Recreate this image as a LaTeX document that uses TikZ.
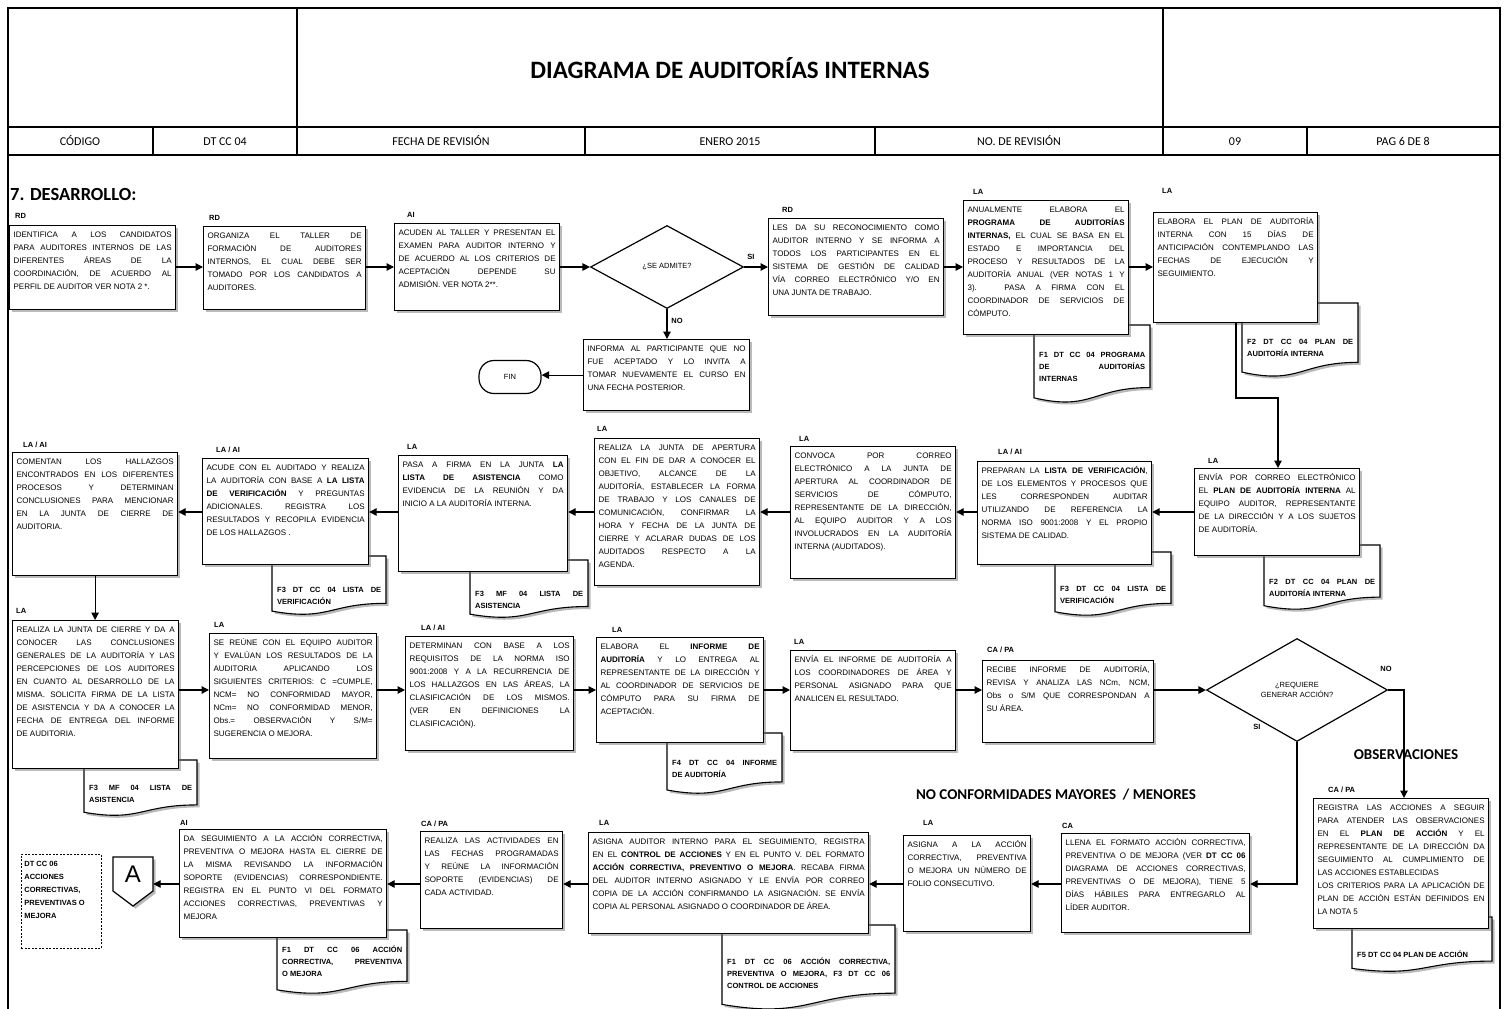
\documentclass[tikz,border=0pt]{standalone}
\usepackage{fontspec}
\setmainfont{Liberation Sans}
\newfontfamily\calib{Carlito}
\usetikzlibrary{arrows.meta,shadows,shapes.geometric,calc}

\hyphenpenalty=10000
\exhyphenpenalty=10000
\tolerance=10000
\hbadness=10000
\hfuzz=30pt

\newcommand\FntBox{\fontsize{8}{13}\selectfont}
\newcommand\FntDoc{\fontsize{7.5}{12}\selectfont\bfseries}
\newcommand\FntRole{\fontsize{7.5}{9}\selectfont\bfseries}
\newcommand\FntDec{\fontsize{7.5}{10}\selectfont}
\newcommand\NL{\linebreak}

% process box: name, x1, y1, x2, y2, text (text set from the top)
\newcommand\PBox[6]{%
  \node[procbox, anchor=north west] (#1) at (#2,#3)
    {\parbox[c][\dimexpr#5pt-#3pt-5pt\relax][t]{\dimexpr#4pt-#2pt-8pt\relax}{\FntBox\strut #6}};}

% document symbol: x1, ytop, x2, height
\newcommand\DocShape[4]{%
  \pgfmathsetmacro\dsR{#2+0.802*#4}%
  \pgfmathsetmacro\dsC{#2+1.107*#4}%
  \pgfmathsetmacro\dsL{#2+0.934*#4}%
  \pgfmathsetmacro\dsM{(#1+#3)/2}%
  \path[docshape] (#1,#2) -- (#3,#2) -- (#3,\dsR)
     .. controls (\dsM,\dsR) and (\dsM,\dsC) .. (#1,\dsL) -- cycle;}

% text of a document symbol: name, x1, x2, centre of first line, text
\newcommand\DocText[5]{%
  \node[doctext] (#1) at (#2+5,#4-6)
    {\parbox{\dimexpr#3pt-#2pt-10pt\relax}{\FntDoc\strut #5}};}

\tikzset{
  frame/.style={line width=1.8pt},
  grid/.style={line width=1.2pt},
  shade/.style={shadow xshift=2.5pt, shadow yshift=-2.5pt, opacity=.45, fill=black!60},
  procbox/.style={draw, line width=1.2pt, fill=white, inner xsep=4pt, inner ysep=2.5pt,
    drop shadow={shade}},
  docshape/.style={draw, line width=1.1pt, fill=white, drop shadow={shade}},
  doctext/.style={anchor=north west, inner sep=0pt},
  role/.style={anchor=west, inner sep=0pt, font=\FntRole},
  branch/.style={inner sep=0pt, font=\FntRole},
  decision/.style={diamond, draw, line width=1.2pt, fill=white, inner sep=0pt,
    font=\FntDec, align=center},
  terminal/.style={draw, line width=1.2pt, fill=white, rounded corners=15pt,
    inner sep=0pt, font=\FntDec},
  offpage/.style={draw, line width=1.2pt, fill=white, drop shadow={shade}},
  notebox/.style={draw, dash pattern=on 2pt off 1.5pt, line width=0.8pt,
    anchor=north west, inner sep=3pt},
  flow/.style={line width=1.2pt, -{Triangle[length=7.5pt,width=7.5pt]}},
  heading/.style={inner sep=0pt, font=\calib\bfseries\fontsize{15}{18}\selectfont},
  hdr/.style={inner sep=0pt, anchor=base, font=\calib\fontsize{12}{14}\selectfont},
}

\begin{document}
\begin{tikzpicture}[x=1pt, y=-1pt]
\useasboundingbox (0,0) rectangle (1507,1009);
\fill[white] (0,0) rectangle (1507,1009);

% ---------- title block ----------
\draw[frame] (8,1009) -- (8,8) -- (1500,8) -- (1500,1009);
\draw[grid] (8,127) -- (1500,127);
\draw[grid] (8,155) -- (1500,155);
\draw[grid] (297,8) -- (297,155);
\draw[grid] (1163,8) -- (1163,155);
\draw[grid] (153,127) -- (153,155);
\draw[grid] (585,127) -- (585,155);
\draw[grid] (875,127) -- (875,155);
\draw[grid] (1307,127) -- (1307,155);

\node[font=\calib\bfseries\fontsize{25}{29}\selectfont] (title) at (730,68) {DIAGRAMA DE AUDITORÍAS INTERNAS};
\node[hdr] (hcod) at (80,145) {CÓDIGO};
\node[hdr] (hcodv) at (225,145) {DT CC 04};
\node[hdr] (hfec) at (441,145) {FECHA DE REVISIÓN};
\node[hdr] (hfecv) at (730,145) {ENERO 2015};
\node[hdr] (hrev) at (1019,145) {NO. DE REVISIÓN};
\node[hdr] (hrevv) at (1235,145) {09};
\node[hdr] (hpag) at (1403,145) {PAG 6 DE 8};

\node[anchor=west, inner sep=0pt, font=\calib\bfseries\fontsize{18.5}{22}\selectfont] (sec) at (10,194) {7. DESARROLLO:};
\node[heading] (obs) at (1406,755) {OBSERVACIONES};
\node[heading] (ncm) at (1056,795) {NO CONFORMIDADES MAYORES \ / MENORES};

% ---------- document symbols (behind their boxes) ----------
\DocShape{1034}{325}{1150}{78}
\DocShape{1242}{303}{1358}{74}
\DocShape{1264}{545}{1380}{65}
\DocShape{1055}{552}{1171}{64}
\DocShape{470}{560}{588}{58}
\DocShape{272}{556}{386}{59}
\DocShape{84}{760}{197}{56}
\DocShape{667}{733}{782}{61}
\DocShape{1352}{917}{1492}{55}
\DocShape{722}{925}{895}{85}
\DocShape{277}{930}{407}{64}

% ---------- process boxes ----------
\PBox{b1}{9}{225}{175}{309}{IDENTIFICA A LOS CANDIDATOS\NL PARA AUDITORES INTERNOS DE LAS\NL DIFERENTES ÁREAS DE LA\NL COORDINACIÓN, DE ACUERDO AL\NL PERFIL DE AUDITOR VER NOTA 2 *.}
\PBox{b2}{203}{226}{365}{309}{ORGANIZA EL TALLER DE\NL FORMACIÓN DE AUDITORES\NL INTERNOS, EL CUAL DEBE SER\NL TOMADO POR LOS CANDIDATOS A\NL AUDITORES.}
\PBox{b3}{394}{223}{559}{310}{ACUDEN AL TALLER Y PRESENTAN EL\NL EXAMEN PARA AUDITOR INTERNO Y\NL DE ACUERDO AL LOS CRITERIOS DE\NL ACEPTACIÓN DEPENDE SU\NL ADMISIÓN. VER NOTA 2**.}
\PBox{bB}{768}{218}{943}{315}{LES DA SU RECONOCIMIENTO COMO\NL AUDITOR INTERNO Y SE INFORMA A\NL TODOS LOS PARTICIPANTES EN EL\NL SISTEMA DE GESTIÓN DE CALIDAD\NL VÍA CORREO ELECTRÓNICO Y/O EN\NL UNA JUNTA DE TRABAJO.}
\PBox{inf}{583}{339}{749}{410}{INFORMA AL PARTICIPANTE QUE NO\NL FUE ACEPTADO Y LO INVITA A\NL TOMAR NUEVAMENTE EL CURSO EN\NL UNA FECHA POSTERIOR.}
\PBox{bC}{963}{200}{1128}{334}{ANUALMENTE ELABORA EL\NL \textbf{PROGRAMA DE AUDITORÍAS\NL INTERNAS,} EL CUAL SE BASA EN EL\NL ESTADO E IMPORTANCIA DEL\NL PROCESO Y RESULTADOS DE LA\NL AUDITORÍA ANUAL (VER NOTAS 1 Y\NL 3). PASA A FIRMA CON EL\NL COORDINADOR DE SERVICIOS DE\NL CÓMPUTO.}
\PBox{bD}{1153}{212}{1317}{322}{ELABORA EL PLAN DE AUDITORÍA\NL INTERNA CON 15 DÍAS DE\NL ANTICIPACIÓN CONTEMPLANDO LAS\NL FECHAS DE EJECUCIÓN Y\NL SEGUIMIENTO.}

\PBox{bE}{1194}{468}{1359}{555}{ENVÍA POR CORREO ELECTRÓNICO\NL EL \textbf{PLAN DE AUDITORÍA INTERNA} AL\NL EQUIPO AUDITOR, REPRESENTANTE\NL DE LA DIRECCIÓN Y A LOS SUJETOS\NL DE AUDITORÍA.}
\PBox{bF}{977}{461}{1151}{564}{PREPARAN LA \textbf{LISTA DE VERIFICACIÓN},\NL DE LOS ELEMENTOS Y PROCESOS QUE\NL LES CORRESPONDEN AUDITAR\NL UTILIZANDO DE REFERENCIA LA\NL NORMA ISO 9001:2008 Y EL PROPIO\NL SISTEMA DE CALIDAD.}
\PBox{bG}{790}{446}{955}{578}{CONVOCA POR CORREO\NL ELECTRÓNICO A LA JUNTA DE\NL APERTURA AL COORDINADOR DE\NL SERVICIOS DE CÓMPUTO,\NL REPRESENTANTE DE LA DIRECCIÓN,\NL AL EQUIPO AUDITOR Y A LOS\NL INVOLUCRADOS EN LA AUDITORÍA\NL INTERNA (AUDITADOS).}
\PBox{bH}{594}{438}{759}{585}{REALIZA LA JUNTA DE APERTURA\NL CON EL FIN DE DAR A CONOCER EL\NL OBJETIVO, ALCANCE DE LA\NL AUDITORÍA, ESTABLECER LA FORMA\NL DE TRABAJO Y LOS CANALES DE\NL COMUNICACIÓN, CONFIRMAR LA\NL HORA Y FECHA DE LA JUNTA DE\NL CIERRE Y ACLARAR DUDAS DE LOS\NL AUDITADOS RESPECTO A LA\NL AGENDA.}
\PBox{bI}{398}{455}{567}{571}{PASA A FIRMA EN LA JUNTA \textbf{LA\NL LISTA DE ASISTENCIA} COMO\NL EVIDENCIA DE LA REUNIÓN Y DA\NL INICIO A LA AUDITORÍA INTERNA.}
\PBox{bJ}{202}{458}{368}{564}{ACUDE CON EL AUDITADO Y REALIZA\NL LA AUDITORÍA CON BASE A \textbf{LA LISTA\NL DE VERIFICACIÓN} Y PREGUNTAS\NL ADICIONALES. REGISTRA LOS\NL RESULTADOS Y RECOPILA EVIDENCIA\NL DE LOS HALLAZGOS .}
\PBox{bK}{12}{452}{177}{575}{COMENTAN LOS HALLAZGOS\NL ENCONTRADOS EN LOS DIFERENTES\NL PROCESOS Y DETERMINAN\NL CONCLUSIONES PARA MENCIONAR\NL EN LA JUNTA DE CIERRE DE\NL AUDITORIA.}

\PBox{bL}{12}{620}{178}{768}{REALIZA LA JUNTA DE CIERRE Y DA A\NL CONOCER LAS CONCLUSIONES\NL GENERALES DE LA AUDITORÍA Y LAS\NL PERCEPCIONES DE LOS AUDITORES\NL EN CUANTO AL DESARROLLO DE LA\NL MISMA. SOLICITA FIRMA DE LA LISTA\NL DE ASISTENCIA Y DA A CONOCER LA\NL FECHA DE ENTREGA DEL INFORME\NL DE AUDITORIA.}
\PBox{bM}{209}{633}{376}{758}{SE REÚNE CON EL EQUIPO AUDITOR\NL Y EVALÚAN LOS RESULTADOS DE LA\NL AUDITORIA APLICANDO LOS\NL SIGUIENTES CRITERIOS: C =CUMPLE,\NL NCM= NO CONFORMIDAD MAYOR,\NL NCm= NO CONFORMIDAD MENOR,\NL Obs.= OBSERVACIÓN Y S/M=\NL SUGERENCIA O MEJORA.}
\PBox{bN}{405}{636}{573}{750}{DETERMINAN CON BASE A LOS\NL REQUISITOS DE LA NORMA ISO\NL 9001:2008 Y A LA RECURRENCIA DE\NL LOS HALLAZGOS EN LAS ÁREAS, LA\NL CLASIFICACIÓN DE LOS MISMOS.\NL (VER EN DEFINICIONES LA\NL CLASIFICACIÓN).}
\PBox{bO}{596}{637}{763}{742}{ELABORA EL \textbf{INFORME DE\NL AUDITORÍA} Y LO ENTREGA AL\NL REPRESENTANTE DE LA DIRECCIÓN Y\NL AL COORDINADOR DE SERVICIOS DE\NL CÓMPUTO PARA SU FIRMA DE\NL ACEPTACIÓN.}
\PBox{bP}{790}{650}{955}{750}{ENVÍA EL INFORME DE AUDITORÍA A\NL LOS COORDINADORES DE ÁREA Y\NL PERSONAL ASIGNADO PARA QUE\NL ANALICEN EL RESULTADO.}
\PBox{bQ}{982}{660}{1153}{742}{RECIBE INFORME DE AUDITORÍA,\NL REVISA Y ANALIZA LAS NCm, NCM,\NL Obs o S/M QUE CORRESPONDAN A\NL SU ÁREA.}

\PBox{bR}{1313}{798}{1488}{928}{REGISTRA LAS ACCIONES A SEGUIR\NL PARA ATENDER LAS OBSERVACIONES\NL EN EL \textbf{PLAN DE ACCIÓN} Y EL\NL REPRESENTANTE DE LA DIRECCIÓN DA\NL SEGUIMIENTO AL CUMPLIMIENTO DE\NL LAS ACCIONES ESTABLECIDAS\par LOS CRITERIOS PARA LA APLICACIÓN DE\NL PLAN DE ACCIÓN ESTÁN DEFINIDOS EN\NL LA NOTA 5}
\PBox{bS}{1061}{833}{1249}{932}{LLENA EL FORMATO ACCIÓN CORRECTIVA,\NL PREVENTIVA O DE MEJORA (VER \textbf{DT CC 06}\NL DIAGRAMA DE ACCIONES CORRECTIVAS,\NL PREVENTIVAS O DE MEJORA), TIENE 5\NL DÍAS HÁBILES PARA ENTREGARLO AL\NL LÍDER AUDITOR.}
\PBox{bT}{903}{835}{1030}{931}{ASIGNA A LA ACCIÓN\NL CORRECTIVA, PREVENTIVA\NL O MEJORA UN NÚMERO DE\NL FOLIO CONSECUTIVO.}
\PBox{bU}{588}{832}{868}{933}{ASIGNA AUDITOR INTERNO PARA EL SEGUIMIENTO, REGISTRA\NL EN EL \textbf{CONTROL DE ACCIONES} Y EN EL PUNTO V. DEL FORMATO\NL \textbf{ACCIÓN CORRECTIVA, PREVENTIVO O MEJORA}. RECABA FIRMA\NL DEL AUDITOR INTERNO ASIGNADO Y LE ENVÍA POR CORREO\NL COPIA DE LA ACCIÓN CONFIRMANDO LA ASIGNACIÓN. SE ENVÍA\NL COPIA AL PERSONAL ASIGNADO O COORDINADOR DE ÁREA.}
\PBox{bV}{420}{831}{562}{928}{REALIZA LAS ACTIVIDADES EN\NL LAS FECHAS PROGRAMADAS\NL Y REÚNE LA INFORMACIÓN\NL SOPORTE (EVIDENCIAS) DE\NL CADA ACTIVIDAD.}
\PBox{bW}{179}{829}{386}{937}{DA SEGUIMIENTO A LA ACCIÓN CORRECTIVA,\NL PREVENTIVA O MEJORA HASTA EL CIERRE DE\NL LA MISMA REVISANDO LA INFORMACIÓN\NL SOPORTE (EVIDENCIAS) CORRESPONDIENTE.\NL REGISTRA EN EL PUNTO VI DEL FORMATO\NL ACCIONES CORRECTIVAS, PREVENTIVAS Y\NL MEJORA}

% ---------- document texts ----------
\DocText{tF1}{1034}{1150}{355}{F1 DT CC 04 PROGRAMA\NL DE AUDITORÍAS\NL INTERNAS}
\DocText{tF2}{1242}{1358}{342}{F2 DT CC 04 PLAN DE\NL AUDITORÍA INTERNA}
\DocText{tFE}{1264}{1380}{582}{F2 DT CC 04 PLAN DE\NL AUDITORÍA INTERNA}
\DocText{tFF}{1055}{1171}{589}{F3 DT CC 04 LISTA DE\NL VERIFICACIÓN}
\DocText{tFI}{470}{588}{594}{F3 MF 04 LISTA DE\NL ASISTENCIA}
\DocText{tFJ}{272}{386}{590}{F3 DT CC 04 LISTA DE\NL VERIFICACIÓN}
\DocText{tFL}{84}{197}{788}{F3 MF 04 LISTA DE\NL ASISTENCIA}
\DocText{tFO}{667}{782}{763}{F4 DT CC 04 INFORME\NL DE AUDITORÍA}
\DocText{tFR}{1352}{1492}{955}{F5 DT CC 04 PLAN DE ACCIÓN}
\DocText{tFU}{722}{895}{962}{F1 DT CC 06 ACCIÓN CORRECTIVA,\NL PREVENTIVA O MEJORA, F3 DT CC 06\NL CONTROL DE ACCIONES}
\DocText{tFW}{277}{407}{950}{F1 DT CC 06 ACCIÓN\NL CORRECTIVA, PREVENTIVA\NL O MEJORA}

% ---------- decisions, terminal, connector, note ----------
\node[decision, minimum width=153pt, minimum height=83pt] (d1) at (667,267) {¿SE ADMITE?};
\node[decision, minimum width=181pt, minimum height=103pt] (d2) at (1297,690) {¿REQUIERE\\GENERAR ACCIÓN?};
\node[terminal, minimum width=62pt, minimum height=33pt] (fin) at (510,377) {FIN};
\path[offpage] (113,857) -- (153,857) -- (153,891) -- (133,906) -- (113,891) -- cycle;
\node[inner sep=0pt, minimum width=40pt, minimum height=34pt, font=\fontsize{24}{24}\selectfont] (offA) at (133,874) {A};
\node[notebox] (note) at (21,854) {\parbox[c][88pt][t]{74pt}{\fontsize{7.5}{13}\selectfont\bfseries\raggedright\strut DT CC 06\\ACCIONES\\CORRECTIVAS,\\PREVENTIVAS O\\MEJORA}};

% ---------- role labels ----------
\node[role] (rb1) at (15,216) {RD};
\node[role] (rb2) at (209,218) {RD};
\node[role] (rb3) at (407,215) {AI};
\node[role] (rbB) at (782,210) {RD};
\node[role] (rbC) at (973,192) {LA};
\node[role] (rbD) at (1162,191) {LA};
\node[role] (rbE) at (1208,461) {LA};
\node[role] (rbF) at (998,452) {LA / AI};
\node[role] (rbG) at (799,439) {LA};
\node[role] (rbH) at (597,429) {LA};
\node[role] (rbI) at (407,447) {LA};
\node[role] (rbJ) at (216,450) {LA / AI};
\node[role] (rbK) at (23,445) {LA / AI};
\node[role] (rbL) at (16,611) {LA};
\node[role] (rbM) at (214,625) {LA};
\node[role] (rbN) at (421,628) {LA / AI};
\node[role] (rbO) at (612,630) {LA};
\node[role] (rbP) at (794,642) {LA};
\node[role] (rbQ) at (987,650) {CA / PA};
\node[role] (rbR) at (1328,790) {CA / PA};
\node[role] (rbS) at (1062,826) {CA};
\node[role] (rbT) at (923,823) {LA};
\node[role] (rbU) at (599,823) {LA};
\node[role] (rbV) at (421,824) {CA / PA};
\node[role] (rbW) at (180,823) {AI};

% ---------- connectors ----------
\coordinate (row1) at (0,267);
\coordinate (row2) at (0,512);
\coordinate (row3) at (0,690);
\coordinate (row4) at (0,884);
\coordinate (kD1) at (1236,398);
\coordinate (kD2) at (1278,398);
\coordinate (kNo) at (1404,690);
\coordinate (kSi) at (1297,884);

\draw[flow] (b1.east |- row1) -- (b2.west |- row1);
\draw[flow] (b2.east |- row1) -- (b3.west |- row1);
\draw[flow] (b3.east |- row1) -- (d1.west);
\draw[flow] (d1.east) -- (bB.west |- d1.east);
\draw[flow] (d1.south) -- (inf.north -| d1.south);
\draw[flow] (inf.west) -- (fin.east |- inf.west);
\draw[flow] (bB.east |- row1) -- (bC.west |- row1);
\draw[flow] (bC.east |- row1) -- (bD.west |- row1);
\draw[flow] (bD.south -| kD1) -- (kD1) -- (kD2) -- (bE.north -| kD2);

\draw[flow] (bE.west |- row2) -- (bF.east |- row2);
\draw[flow] (bF.west |- row2) -- (bG.east |- row2);
\draw[flow] (bG.west |- row2) -- (bH.east |- row2);
\draw[flow] (bH.west |- row2) -- (bI.east |- row2);
\draw[flow] (bI.west |- row2) -- (bJ.east |- row2);
\draw[flow] (bJ.west |- row2) -- (bK.east |- row2);
\draw[flow] (bK.south) -- (bK.south |- bL.north);

\draw[flow] (bL.east |- row3) -- (bM.west |- row3);
\draw[flow] (bM.east |- row3) -- (bN.west |- row3);
\draw[flow] (bN.east |- row3) -- (bO.west |- row3);
\draw[flow] (bO.east |- row3) -- (bP.west |- row3);
\draw[flow] (bP.east |- row3) -- (bQ.west |- row3);
\draw[flow] (bQ.east |- row3) -- (d2.west);
\draw[flow] (d2.east) -- (kNo) -- (bR.north -| kNo);
\draw[flow] (d2.south) -- (kSi) -- (bS.east |- kSi);

\draw[flow] (bS.west |- row4) -- (bT.east |- row4);
\draw[flow] (bT.west |- row4) -- (bU.east |- row4);
\draw[flow] (bU.west |- row4) -- (bV.east |- row4);
\draw[flow] (bV.west |- row4) -- (bW.east |- row4);
\draw[flow] (bW.west |- row4) -- (offA.east |- row4);

% ---------- branch labels ----------
\node[branch] (si1) at (751,257) {SI};
\node[branch] (no1) at (677,321) {NO};
\node[branch] (no2) at (1386,669) {NO};
\node[branch] (si2) at (1257,727) {SI};
\end{tikzpicture}
\end{document}
